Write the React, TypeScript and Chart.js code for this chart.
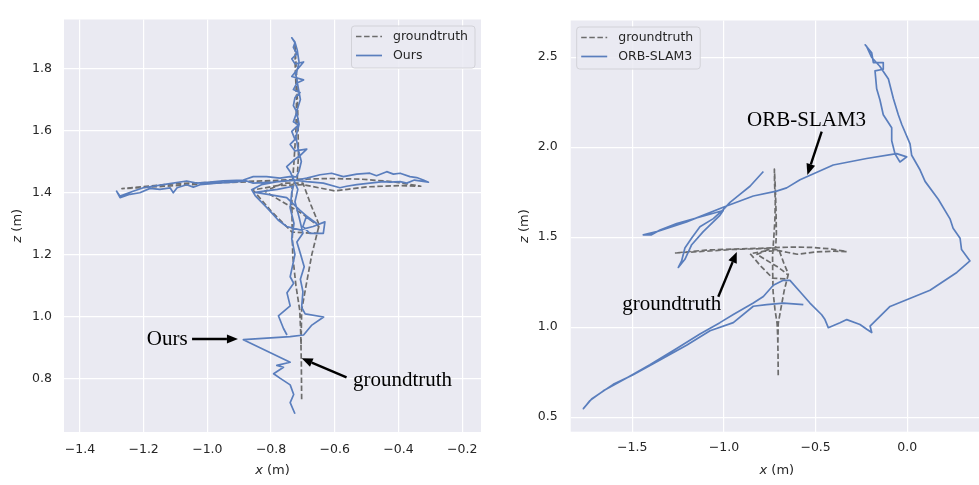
import React, { useEffect, useRef } from "react";
import { Chart, registerables } from "chart.js";
Chart.register(...registerables);

const BG = "#EAEAF2";
const TEXT = "#262626";
const EST_COLOR = "#5A7EBD";
const GT_COLOR = "#6C6C6C";
const TICK_FONT = '"DejaVu Sans"';

// ---------- data ----------
const gtX = [-0.704, -0.705, -0.707, -0.71, -0.722, -0.732, -0.734, -0.735, -0.728, -0.722, -0.72, -0.724, -0.725, -0.72, -0.716, -0.714, -0.718, -0.8, -0.95, -1.1, -1.268, -1.1, -0.95, -0.8, -0.72, -0.62, -0.52, -0.42, -0.33, -0.4, -0.5, -0.56, -0.6, -0.65, -0.7, -0.78, -0.857, -0.8, -0.734, -0.655, -0.65, -0.7, -0.82, -0.76, -0.7, -0.675, -0.649, -0.672, -0.69, -0.704, -0.706];
const gtZ = [0.733, 0.85, 0.95, 1.02, 1.1, 1.196, 1.3, 1.4, 1.5, 1.6, 1.7, 1.8, 1.878, 1.78, 1.65, 1.52, 1.44, 1.436, 1.432, 1.422, 1.412, 1.428, 1.434, 1.438, 1.442, 1.445, 1.443, 1.435, 1.42, 1.422, 1.418, 1.41, 1.405, 1.415, 1.425, 1.422, 1.408, 1.34, 1.272, 1.268, 1.29, 1.33, 1.404, 1.43, 1.43, 1.36, 1.295, 1.2, 1.1, 1.02, 0.9];

const oursX = [
  -0.725, -0.74, -0.729, -0.74, -0.771, -0.792, -0.761, -0.782, -0.74, -0.887, -0.74, -0.698, -0.672, -0.635, -0.693, -0.704, -0.7, -0.708, -0.696, -0.709, -0.719, -0.7,
  -0.712, -0.725, -0.716, -0.74, -0.751, -0.73, -0.709, -0.688, -0.725, -0.74, -0.725, -0.735, -0.714, -0.73, -0.719, -0.73, -0.725, -0.709, -0.73, -0.719, -0.698, -0.735, -0.719, -0.698, -0.725, -0.735, -0.719, -0.73, -0.725, -0.735,
  -0.725, -0.718, -0.712, -0.722, -0.715, -0.708, -0.72, -0.712, -0.722, -0.715, -0.705, -0.712, -0.72,
  -0.741, -0.772, -0.814, -0.856, -0.887, -0.95, -0.992, -1.034, -1.065, -1.128, -1.201, -1.233, -1.274, -1.285, -1.274, -1.243, -1.212, -1.18, -1.149, -1.117, -1.107, -1.095, -1.065, -1.044, -1.023, -0.971, -0.919, -0.877, -0.856, -0.793, -0.751, -0.72,
  -0.688, -0.646, -0.61, -0.573, -0.531, -0.49, -0.469, -0.437, -0.416, -0.395, -0.364, -0.343, -0.322, -0.306, -0.35, -0.374, -0.395, -0.427, -0.448, -0.49, -0.531, -0.563, -0.584, -0.636, -0.688, -0.725,
  -0.78, -0.83, -0.861, -0.85, -0.814, -0.79, -0.778, -0.751, -0.709, -0.668, -0.631, -0.636, -0.678, -0.7, -0.69, -0.657, -0.69, -0.709, -0.751, -0.8, -0.85, -0.78, -0.73,
  -0.735, -0.74, -0.728, -0.735, -0.725, -0.74, -0.729, -0.75, -0.74, -0.777, -0.761, -0.75,
];
const oursZ = [
  0.686, 0.722, 0.748, 0.779, 0.8, 0.815, 0.836, 0.842, 0.852, 0.925, 0.935, 0.94, 0.972, 0.998, 1.008, 1.029, 1.08, 1.12, 1.16, 1.206, 1.24, 1.268,
  1.32, 1.37, 1.41, 1.467, 1.483, 1.503, 1.519, 1.54, 1.534, 1.555, 1.571, 1.597, 1.618, 1.628, 1.659, 1.68, 1.706, 1.722, 1.732, 1.753, 1.763, 1.774, 1.795, 1.821, 1.815, 1.831, 1.847, 1.868, 1.883, 1.899,
  1.885, 1.86, 1.82, 1.78, 1.74, 1.7, 1.66, 1.62, 1.58, 1.54, 1.5, 1.47, 1.45,
  1.451, 1.446, 1.451, 1.451, 1.44, 1.437, 1.433, 1.43, 1.437, 1.427, 1.415, 1.404, 1.388, 1.404, 1.383, 1.394, 1.399, 1.413, 1.41, 1.415, 1.399, 1.415, 1.425, 1.417, 1.425, 1.43, 1.433, 1.437, 1.43, 1.433, 1.437, 1.44,
  1.446, 1.457, 1.462, 1.451, 1.459, 1.462, 1.454, 1.467, 1.459, 1.462, 1.451, 1.448, 1.44, 1.433, 1.44, 1.43, 1.435, 1.433, 1.435, 1.43, 1.425, 1.42, 1.415, 1.43, 1.435, 1.44,
  1.435, 1.425, 1.409, 1.39, 1.352, 1.325, 1.311, 1.29, 1.279, 1.29, 1.305, 1.268, 1.268, 1.29, 1.32, 1.3, 1.325, 1.342, 1.383, 1.392, 1.4, 1.41, 1.42,
  1.4, 1.35, 1.3, 1.25, 1.2, 1.128, 1.107, 1.076, 1.034, 1.002, 0.961, 0.94,
];

const orbX = [
  -0.785, -0.858, -0.913, -0.967, -1.004, -1.058, -1.131, -1.176, -1.213, -1.231, -1.249, -1.213, -1.176, -1.113, -1.022, -1.004, -1.131, -1.258, -1.349, -1.395, -1.44, -1.367, -1.204, -1.004, -0.84, -0.713, -0.658, -0.585, -0.404, -0.222, -0.058,
  -0.003, -0.04, -0.067, -0.085, -0.085, -0.131, -0.149, -0.167, -0.176, -0.131, -0.131, -0.185, -0.194, -0.23, -0.222, -0.195, -0.15, -0.103, -0.076, -0.049, -0.03, 0.015, 0.024, 0.07, 0.097, 0.169,
  0.233, 0.25, 0.288, 0.296, 0.342, 0.27, 0.124, -0.094, -0.203, -0.194, -0.221, -0.258, -0.33, -0.367, -0.431, -0.449, -0.467, -0.531, -0.585, -0.64, -0.676,
  -0.731, -0.785, -0.84, -0.949, -1.022, -1.131, -1.258, -1.404, -1.531, -1.658, -1.731, -1.767,
  -1.722, -1.604, -1.495, -1.349, -1.204, -1.076, -0.949, -0.84, -0.767, -0.676, -0.567,
];
const orbZ = [
  1.865, 1.783, 1.738, 1.693, 1.653, 1.603, 1.558, 1.495, 1.44, 1.368, 1.332, 1.377, 1.458, 1.531, 1.621, 1.648, 1.612, 1.576, 1.54, 1.513, 1.513, 1.531, 1.585, 1.666, 1.729, 1.756, 1.774, 1.819, 1.901, 1.937, 1.964,
  1.946, 1.918, 1.963, 2.036, 2.108, 2.18, 2.262, 2.325, 2.424, 2.433, 2.47, 2.47, 2.524, 2.569, 2.56, 2.5, 2.45, 2.379, 2.271, 2.18, 2.126, 2.018, 1.955, 1.873, 1.81, 1.711,
  1.602, 1.55, 1.494, 1.431, 1.368, 1.304, 1.205, 1.115, 1.006, 0.97, 0.988, 1.015, 1.042, 1.024, 0.997, 1.042, 1.069, 1.134, 1.197, 1.26, 1.26,
  1.233, 1.17, 1.134, 1.07, 1.025, 0.962, 0.881, 0.791, 0.718, 0.646, 0.592, 0.547,
  0.601, 0.682, 0.736, 0.818, 0.899, 0.98, 1.025, 1.116, 1.125, 1.134, 1.125,
];

const leftXTicks = [-1.4, -1.2, -1.0, -0.8, -0.6, -0.4, -0.2];
const leftZTicks = [0.8, 1.0, 1.2, 1.4, 1.6, 1.8];
const rightXTicks = [-1.5, -1.0, -0.5, 0.0];
const rightZTicks = [0.5, 1.0, 1.5, 2.0, 2.5];
const gtLabel = "groundtruth";
const leftEstLabel = "Ours";
const rightEstLabel = "ORB-SLAM3";

type Annot = { text: string; tx: number; ty: number; from: [number, number]; to: [number, number] };

const leftAnnots: Annot[] = [
  { text: "Ours", tx: -1.19, ty: 0.908, from: [-1.048, 0.927], to: [-0.904, 0.927] },
  { text: "groundtruth", tx: -0.543, ty: 0.777, from: [-0.563, 0.803], to: [-0.704, 0.865] },
];
const rightAnnots: Annot[] = [
  { text: "ORB-SLAM3", tx: -0.874, ty: 2.117, from: [-0.467, 2.086], to: [-0.545, 1.846] },
  { text: "groundtruth", tx: -1.555, ty: 1.096, from: [-1.031, 1.169], to: [-0.93, 1.418] },
];

function fmt(v: number) {
  const s = Math.abs(v).toFixed(1);
  return v < -1e-9 ? "\u2212" + s : s;
}

function drawAxisTitle(ctx: CanvasRenderingContext2D, v: string, x: number, y: number, rot: boolean) {
  ctx.save();
  ctx.translate(x, y);
  if (rot) ctx.rotate(-Math.PI / 2);
  const it = `italic 13px ${TICK_FONT}`;
  const nm = `13px ${TICK_FONT}`;
  ctx.font = it;
  const w1 = ctx.measureText(v).width;
  ctx.font = nm;
  const w2 = ctx.measureText(" (m)").width;
  const sx = -(w1 + w2) / 2;
  ctx.fillStyle = TEXT;
  ctx.textBaseline = "middle";
  ctx.textAlign = "left";
  ctx.font = it;
  ctx.fillText(v, sx, 0);
  ctx.font = nm;
  ctx.fillText(" (m)", sx + w1, 0);
  ctx.restore();
}

function drawArrow(ctx: CanvasRenderingContext2D, x1: number, y1: number, x2: number, y2: number) {
  const ang = Math.atan2(y2 - y1, x2 - x1);
  const hl = 11, hw = 4.5;
  const bx = x2 - hl * Math.cos(ang), by = y2 - hl * Math.sin(ang);
  ctx.save();
  ctx.strokeStyle = "#000";
  ctx.fillStyle = "#000";
  ctx.lineWidth = 2.4;
  ctx.beginPath();
  ctx.moveTo(x1, y1);
  ctx.lineTo(bx, by);
  ctx.stroke();
  ctx.beginPath();
  ctx.moveTo(x2, y2);
  ctx.lineTo(bx + hw * Math.sin(ang), by - hw * Math.cos(ang));
  ctx.lineTo(bx - hw * Math.sin(ang), by + hw * Math.cos(ang));
  ctx.closePath();
  ctx.fill();
  ctx.restore();
}

type PanelCfg = {
  left: number; width: number; height: number;
  xMin: number; xMax: number; yMin: number; yMax: number;
  xTicks: number[]; yTicks: number[];
  estX: number[]; estZ: number[]; estLabel: string;
  padRight: number; padTop: number; yAxisW: number; xAxisH: number;
  yTickPad: number; xTickPad: number;
  legendAnchor: "right" | "left";
  annots: Annot[];
};

function makePlugin(c: PanelCfg) {
  return {
    id: "panelDecor",
    beforeDraw(chart: any) {
      const { ctx, chartArea: a } = chart;
      ctx.save();
      ctx.fillStyle = BG;
      ctx.fillRect(a.left, a.top, a.right - a.left, a.bottom - a.top);
      ctx.restore();
    },
    afterDraw(chart: any) {
      const { ctx, chartArea: a } = chart;
      // legend
      ctx.save();
      ctx.font = `12.5px ${TICK_FONT}`;
      const labels = [gtLabel, c.estLabel];
      const tw = Math.max(...labels.map((l) => ctx.measureText(l).width));
      const bw = 4.5 + 26 + 11 + tw + 7;
      const bh = 42;
      const bx = c.legendAnchor === "right" ? a.right - 6 - bw : a.left + 6;
      const by = a.top + 6.5;
      ctx.fillStyle = "rgba(234,234,242,0.85)";
      ctx.strokeStyle = "#d2d2d8";
      ctx.lineWidth = 1;
      const r = 3;
      ctx.beginPath();
      ctx.moveTo(bx + r, by);
      ctx.lineTo(bx + bw - r, by);
      ctx.quadraticCurveTo(bx + bw, by, bx + bw, by + r);
      ctx.lineTo(bx + bw, by + bh - r);
      ctx.quadraticCurveTo(bx + bw, by + bh, bx + bw - r, by + bh);
      ctx.lineTo(bx + r, by + bh);
      ctx.quadraticCurveTo(bx, by + bh, bx, by + bh - r);
      ctx.lineTo(bx, by + r);
      ctx.quadraticCurveTo(bx, by, bx + r, by);
      ctx.closePath();
      ctx.fill();
      ctx.stroke();
      const rows = [by + 10.5, by + 29.5];
      for (let i = 0; i < 2; i++) {
        const yy = rows[i];
        ctx.beginPath();
        ctx.lineWidth = 1.7;
        ctx.strokeStyle = i === 0 ? GT_COLOR : EST_COLOR;
        ctx.setLineDash(i === 0 ? [5.5, 2.6] : []);
        ctx.moveTo(bx + 4.5, yy);
        ctx.lineTo(bx + 30.5, yy);
        ctx.stroke();
        ctx.setLineDash([]);
        ctx.fillStyle = TEXT;
        ctx.textBaseline = "middle";
        ctx.textAlign = "left";
        ctx.fillText(labels[i], bx + 41.5, yy);
      }
      ctx.restore();
      // axis titles
      drawAxisTitle(ctx, "x", (a.left + a.right) / 2, a.bottom + 38.5, false);
      drawAxisTitle(ctx, "z", a.left - 46, (a.top + a.bottom) / 2, true);
      // annotations
      const xs = chart.scales.x, ys = chart.scales.y;
      for (const an of c.annots) {
        ctx.save();
        ctx.font = '21px "Liberation Serif"';
        ctx.fillStyle = "#000";
        ctx.textAlign = "left";
        ctx.textBaseline = "alphabetic";
        ctx.fillText(an.text, xs.getPixelForValue(an.tx), ys.getPixelForValue(an.ty));
        ctx.restore();
        drawArrow(ctx, xs.getPixelForValue(an.from[0]), ys.getPixelForValue(an.from[1]), xs.getPixelForValue(an.to[0]), ys.getPixelForValue(an.to[1]));
      }
    },
  };
}

function Panel({ c }: { c: PanelCfg }) {
  const ref = useRef<HTMLCanvasElement>(null);
  useEffect(() => {
    const tickFont = { family: "DejaVu Sans", size: 12.5 };
    const chart = new Chart(ref.current as HTMLCanvasElement, {
      type: "scatter",
      data: {
        datasets: [
          {
            label: c.estLabel,
            data: c.estX.map((x, i) => ({ x, y: c.estZ[i] })),
            showLine: true,
            borderColor: EST_COLOR,
            backgroundColor: EST_COLOR,
            borderWidth: 1.7,
            pointRadius: 0,
            tension: 0,
            borderJoinStyle: "round",
            order: 1,
          } as any,
          {
            label: gtLabel,
            data: gtX.map((x, i) => ({ x, y: gtZ[i] })),
            showLine: true,
            borderColor: GT_COLOR,
            backgroundColor: GT_COLOR,
            borderWidth: 1.7,
            borderDash: [5.5, 2.6],
            pointRadius: 0,
            tension: 0,
            borderJoinStyle: "round",
            order: 2,
          } as any,
        ],
      },
      options: {
        responsive: false,
        animation: false,
        devicePixelRatio: 1,
        events: [],
        layout: { padding: { left: 0, right: c.padRight, top: c.padTop, bottom: 0 } },
        plugins: { legend: { display: false }, tooltip: { enabled: false }, title: { display: false } },
        scales: {
          x: {
            type: "linear",
            min: c.xMin,
            max: c.xMax,
            afterFit: (s: any) => { s.height = c.xAxisH; },
            afterBuildTicks: (s: any) => { s.ticks = c.xTicks.map((v) => ({ value: v })); },
            ticks: { callback: (v: any) => fmt(Number(v)), font: tickFont, color: TEXT, padding: c.xTickPad, maxRotation: 0, autoSkip: false },
            grid: { color: "#ffffff", lineWidth: 1.2, drawTicks: false },
            border: { display: false },
          },
          y: {
            type: "linear",
            min: c.yMin,
            max: c.yMax,
            afterFit: (s: any) => { s.width = c.yAxisW; },
            afterBuildTicks: (s: any) => { s.ticks = c.yTicks.map((v) => ({ value: v })); },
            ticks: { callback: (v: any) => fmt(Number(v)), font: tickFont, color: TEXT, padding: c.yTickPad, autoSkip: false },
            grid: { color: "#ffffff", lineWidth: 1.2, drawTicks: false },
            border: { display: false },
          },
        },
      } as any,
      plugins: [makePlugin(c) as any],
    });
    return () => chart.destroy();
  }, []);
  return (
    <canvas
      ref={ref}
      width={c.width}
      height={c.height}
      style={{ position: "absolute", left: c.left, top: 0, width: c.width, height: c.height }}
    />
  );
}

const leftPanel: PanelCfg = {
  left: 0, width: 500, height: 485,
  xMin: -1.45, xMax: -0.141, yMin: 0.627, yMax: 1.958,
  xTicks: leftXTicks, yTicks: leftZTicks,
  estX: oursX, estZ: oursZ, estLabel: leftEstLabel,
  padRight: 19, padTop: 6, yAxisW: 64, xAxisH: 53,
  yTickPad: 12, xTickPad: 10,
  legendAnchor: "right",
  annots: leftAnnots,
};

const rightPanel: PanelCfg = {
  left: 500, width: 490, height: 485,
  xMin: -1.836, xMax: 0.413, yMin: 0.419, yMax: 2.704,
  xTicks: rightXTicks, yTicks: rightZTicks,
  estX: orbX, estZ: orbZ, estLabel: rightEstLabel,
  padRight: 7, padTop: 10, yAxisW: 70.7, xAxisH: 53.3,
  yTickPad: 13, xTickPad: 9,
  legendAnchor: "left",
  annots: rightAnnots,
};

export default function App() {
  return (
    <div style={{ position: "fixed", left: 0, top: 0, width: 979, height: 485, overflow: "hidden", background: "#fff" }}>
      <Panel c={leftPanel} />
      <Panel c={rightPanel} />
    </div>
  );
}
